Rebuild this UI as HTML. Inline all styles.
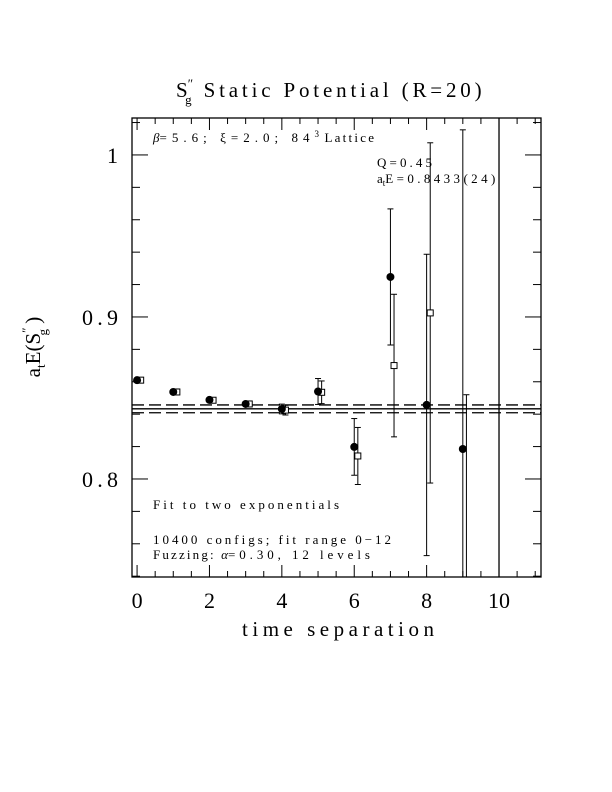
<!DOCTYPE html>
<html><head><meta charset="utf-8"><style>
body{margin:0;background:#fff}
svg{display:block;font-family:"Liberation Serif",serif}
</style></head><body>
<svg id="c" width="612" height="792" xmlns="http://www.w3.org/2000/svg">
<text x="176" y="97" font-size="21">S<tspan font-size="13" dy="-9">″</tspan><tspan font-size="13" dx="-8" dy="16">g</tspan><tspan dy="-7" dx="12" textLength="278" lengthAdjust="spacing">Static Potential (R=20)</tspan></text>
<text transform="translate(40,347) rotate(-90)" font-size="21" text-anchor="middle">a<tspan font-size="13" dy="5">t</tspan><tspan dy="-5">E(S</tspan><tspan font-size="13" dy="-9">″</tspan><tspan font-size="13" dx="-8" dy="16">g</tspan><tspan dy="-7"> )</tspan></text>
<text x="242" y="636" font-size="21" textLength="192" lengthAdjust="spacing">time separation</text>
<g id="ticks"></g>
<g id="plot"></g>
<text x="153" y="142" font-size="13"><tspan font-style="italic">β</tspan><tspan textLength="150" lengthAdjust="spacing">=5.6; ξ=2.0; 84</tspan><tspan font-size="9" dy="-5">3</tspan><tspan dy="5" textLength="55" lengthAdjust="spacing"> Lattice</tspan></text>
<text x="377" y="167" font-size="13" textLength="55" lengthAdjust="spacing">Q=0.45</text>
<text x="377" y="183" font-size="13">a<tspan font-size="9" dy="3">t</tspan><tspan dy="-3" textLength="110" lengthAdjust="spacing">E=0.8433(24)</tspan></text>
<text x="153" y="509" font-size="13" textLength="186" lengthAdjust="spacing">Fit to two exponentials</text>
<text x="153" y="544" font-size="13" textLength="238" lengthAdjust="spacing">10400 configs; fit range 0−12</text>
<text x="153" y="559" font-size="13"><tspan textLength="66" lengthAdjust="spacing">Fuzzing: </tspan><tspan font-style="italic">α</tspan><tspan textLength="142" lengthAdjust="spacing">=0.30, 12 levels</tspan></text>
</svg>
<script>
const circT=[0,1,2,3,4,5,6,7,8,9];
const circV=[0.861,0.8537,0.8488,0.8463,0.8432,0.854,0.8198,0.9247,0.8457,0.8185];
const circE=[0.001,0.001,0.001,0.001,0.003,0.008,0.0175,0.042,0.093,0.197];
const sqT=[0,1,2,3,4,5,6,7,8,9];
const sqV=[0.861,0.8537,0.8486,0.8463,0.8425,0.8535,0.8142,0.870,0.9025,0.72];
const sqE=[0.001,0.001,0.001,0.001,0.003,0.007,0.0176,0.044,0.105,0.132];
const fitE=0.8433, fitErr=0.0024;
const xTicks=[0,2,4,6,8,10];
const yTicks=[0.8,0.9,1.0];
const yLabels=["0.8","0.9","1"];
const X0=132,X1=541,Y0=577,Y1=118;
const xmin=-0.14,xmax=11.16,ymin=0.7395,ymax=1.0228;
const sx=v=>X0+(v-xmin)/(xmax-xmin)*(X1-X0);
const sy=v=>Y0-(v-ymin)/(ymax-ymin)*(Y0-Y1);
const NS="http://www.w3.org/2000/svg";
const plot=document.getElementById('plot'),tk=document.getElementById('ticks');
function mk(p,tag,a){const e=document.createElementNS(NS,tag);for(const k in a)e.setAttribute(k,a[k]);p.appendChild(e);return e;}
function ln(p,x1,y1,x2,y2,w){return mk(p,'line',{x1,y1,x2,y2,stroke:'#000','stroke-width':w||1});}
const fr=mk(tk,'rect',{x:X0,y:Y1,width:X1-X0,height:Y0-Y1,fill:'none',stroke:'#000','stroke-width':1.3});


for(let v=0;v<=11.01;v+=0.5){const x=sx(v),maj=Math.abs(v%2)<0.01;
 ln(tk,x,Y0,x,Y0-(maj?12:6));ln(tk,x,Y1,x,Y1+(maj?12:6));}
for(let i=0;i<xTicks.length;i++){const t=mk(tk,'text',{x:sx(xTicks[i]),y:608,'font-size':22,'text-anchor':'middle'});t.textContent=xTicks[i];
 
 }
for(let v=0.74;v<=1.021;v+=0.02){const y=sy(v),maj=Math.abs(Math.round(v*100)%10)<0.5;
 ln(tk,X0,y,X0+(maj?16:8),y);ln(tk,X1,y,X1-(maj?16:8),y);}
for(let i=0;i<yTicks.length;i++){const t=mk(tk,'text',{x:118,y:sy(yTicks[i])+8,'font-size':22,'text-anchor':'end'});t.textContent=yLabels[i];
 if(yLabels[i].length>1){t.setAttribute('textLength','36');t.setAttribute('lengthAdjust','spacing');}
 
 }
const fl=ln(plot,X0,sy(fitE),X1,sy(fitE),1.3);


[fitE+fitErr,fitE-fitErr].forEach(v=>{const d=ln(plot,X0,sy(v),X1,sy(v),1.3);d.setAttribute('stroke-dasharray','12,5');
 
 });
const vl=ln(plot,sx(10),Y1,sx(10),Y0,1.3);


function clip(y){return Math.max(Y1,Math.min(Y0,y));}
function ebar(x,v,e){const a=clip(sy(v+e)),b=clip(sy(v-e));ln(plot,x,a,x,b);
 if(a>Y1)ln(plot,x-3,a,x+3,a);if(b<Y0)ln(plot,x-3,b,x+3,b);}
for(let i=0;i<sqT.length;i++){const x=sx(sqT[i])+3.6,y=sy(sqV[i]);ebar(x,sqV[i],sqE[i]);
 if(y<Y0){const r=mk(plot,'rect',{x:x-3,y:y-3,width:6,height:6,fill:'#fff',stroke:'#000'});
 
 }}
for(let i=0;i<circT.length;i++){const x=sx(circT[i]),y=sy(circV[i]);ebar(x,circV[i],circE[i]);
 const c=mk(plot,'circle',{cx:x,cy:y,r:4,fill:'#000'});
 
 }
</script>
</body></html>
